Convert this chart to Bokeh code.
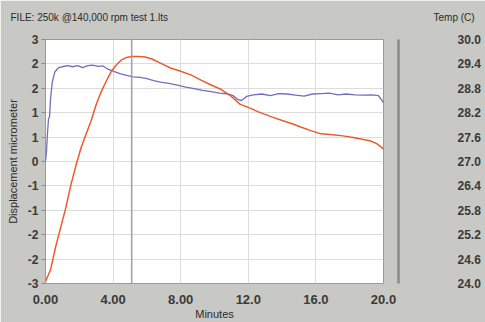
from bokeh.plotting import figure
from bokeh.models import (Range1d, LinearAxis, FixedTicker, Span, Label)
from bokeh.embed import file_html
from bokeh.resources import INLINE

# ---- data ----
disp_t = [0.00, 0.06, 0.12, 0.18, 0.24, 0.30, 0.40, 0.55, 0.75, 1.00, 1.30, 1.60, 1.90,
          2.20, 2.50, 2.80, 3.10, 3.40, 3.70, 4.00, 4.40, 4.80, 5.20, 5.60, 6.00, 6.40,
          6.80, 7.30, 7.80, 8.30, 8.80, 9.30, 9.80, 10.30, 10.80, 11.10, 11.40, 11.60,
          11.90, 12.30, 12.80, 13.30, 13.80, 14.30, 14.80, 15.30, 15.80, 16.30, 16.80,
          17.30, 17.80, 18.30, 18.80, 19.30, 19.70, 20.00]
disp_um = [0.00, 0.25, 0.72, 1.05, 1.10, 1.55, 1.95, 2.20, 2.30, 2.33, 2.36, 2.33, 2.36,
           2.31, 2.36, 2.37, 2.34, 2.35, 2.27, 2.22, 2.16, 2.12, 2.08, 2.07, 2.04, 1.99,
           1.95, 1.92, 1.88, 1.83, 1.79, 1.75, 1.72, 1.68, 1.66, 1.62, 1.52, 1.50,
           1.60, 1.64, 1.66, 1.62, 1.67, 1.66, 1.63, 1.61, 1.66, 1.67, 1.68,
           1.64, 1.66, 1.64, 1.63, 1.64, 1.62, 1.45]

temp_t = [0.00, 0.30, 0.60, 0.90, 1.20, 1.50, 1.80, 2.10, 2.40, 2.70, 3.00, 3.30, 3.60,
          3.90, 4.20, 4.50, 4.80, 5.10, 5.50, 5.90, 6.30, 6.80, 7.40, 8.00, 8.60, 9.20,
          9.80, 10.40, 11.00, 11.50, 12.00, 12.60, 13.30, 14.00, 14.60, 15.10, 15.70,
          16.30, 17.00, 17.60, 18.20, 18.80, 19.20, 19.60, 20.00]
temp_c = [24.05, 24.34, 24.90, 25.38, 25.86, 26.42, 26.90, 27.33, 27.67, 28.00, 28.40,
          28.72, 28.98, 29.22, 29.38, 29.50, 29.56, 29.58, 29.58, 29.57, 29.52, 29.42,
          29.30, 29.22, 29.13, 29.00, 28.88, 28.77, 28.60, 28.41, 28.33, 28.22, 28.11,
          28.01, 27.93, 27.85, 27.76, 27.68, 27.66, 27.63, 27.59, 27.54, 27.51, 27.44,
          27.31]

x_ticks = [0, 4, 8, 12, 16, 20]
x_tick_labels = ["0.00", "4.00", "8.00", "12.0", "16.0", "20.0"]
y_ticks = [-3.0, -2.4, -1.8, -1.2, -0.6, 0.0, 0.6, 1.2, 1.8, 2.4, 3.0]
y_tick_labels = ["-3", "-2", "-2", "-1", "-1", "0", "1", "1", "2", "2", "3"]
t_ticks = [24.0, 24.6, 25.2, 25.8, 26.4, 27.0, 27.6, 28.2, 28.8, 29.4, 30.0]
t_tick_labels = ["24.0", "24.6", "25.2", "25.8", "26.4", "27.0", "27.6", "28.2", "28.8", "29.4", "30.0"]
cursor_min = 5.1
file_title = "FILE: 250k @140,000 rpm test 1.lts"
temp_title = "Temp (C)"

BG = "#c8c8c4"
TXT = "#2b2b2b"
FONT = "Liberation Sans"

p = figure(width=485, height=322, output_backend="svg", toolbar_location=None,
           x_range=Range1d(0, 20), y_range=Range1d(-3, 3),
           min_border_left=45, min_border_right=102, min_border_top=39, min_border_bottom=35,
           background_fill_color="white", border_fill_color=BG, outline_line_color="#9a9a9a")
p.extra_y_ranges = {"temp": Range1d(24, 30)}

# grids
p.xgrid.ticker = FixedTicker(ticks=x_ticks)
p.ygrid.ticker = FixedTicker(ticks=y_ticks)
p.grid.grid_line_color = "#dcdcdc"
p.grid.grid_line_width = 1

# bottom axis
xa = p.xaxis[0]
xa.ticker = FixedTicker(ticks=x_ticks)
xa.major_label_overrides = {t: l for t, l in zip(x_ticks, x_tick_labels)}
xa.axis_label = "Minutes"
xa.axis_label_text_font = FONT
xa.axis_label_text_font_size = "11px"
xa.axis_label_text_font_style = "normal"
xa.axis_label_text_color = TXT
xa.axis_label_standoff = 1
xa.major_label_text_font = FONT
xa.major_label_text_font_size = "13px"
xa.major_label_text_font_style = "bold"
xa.major_label_text_color = "#3a3a3a"
xa.major_label_standoff = 5
xa.axis_line_color = None
xa.major_tick_line_color = None
xa.minor_tick_line_color = None

# left axis
ya = p.yaxis[0]
ya.ticker = FixedTicker(ticks=y_ticks)
ya.major_label_overrides = {t: l for t, l in zip(y_ticks, y_tick_labels)}
ya.axis_label = "Displacement micrometer"
ya.axis_label_text_font = FONT
ya.axis_label_text_font_size = "11px"
ya.axis_label_text_font_style = "normal"
ya.axis_label_text_color = TXT
ya.axis_label_standoff = 6
ya.major_label_text_font = FONT
ya.major_label_text_font_size = "12px"
ya.major_label_text_font_style = "bold"
ya.major_label_text_color = "#3a3a3a"
ya.major_label_standoff = 3
ya.axis_line_color = None
ya.major_tick_line_color = "#888888"
ya.major_tick_out = 4
ya.major_tick_in = 0
ya.minor_tick_line_color = None

# spacer axis: leaves the gray gap between the plot and the rail line
gap = LinearAxis(y_range_name="temp", ticker=FixedTicker(ticks=[27.0]))
gap.major_label_overrides = {27.0: ""}
gap.major_tick_out = 15
gap.major_tick_in = 0
gap.major_label_standoff = 0
gap.axis_line_color = None
gap.major_tick_line_color = None
gap.minor_tick_line_color = None
p.add_layout(gap, "right")

# right temperature axis; its axis line is the dark rail
ra = LinearAxis(y_range_name="temp", ticker=FixedTicker(ticks=t_ticks))
ra.major_label_overrides = {t: l for t, l in zip(t_ticks, t_tick_labels)}
ra.major_label_text_font = FONT
ra.major_label_text_font_size = "12px"
ra.major_label_text_font_style = "bold"
ra.major_label_text_color = "#3a3a3a"
ra.major_label_standoff = 59
ra.axis_line_color = "#8a8a88"
ra.axis_line_width = 2.5
ra.major_tick_line_color = None
ra.major_tick_out = 0
ra.major_tick_in = 0
ra.minor_tick_line_color = None
p.add_layout(ra, "right")

# cursor line
p.add_layout(Span(location=cursor_min, dimension="height", line_color="#a0a0a0", line_width=1.5))

# series
p.line(disp_t, disp_um, line_color="#6e70bb", line_width=1.3)
p.line(temp_t, temp_c, y_range_name="temp", line_color="#ec5a2e", line_width=1.5)

# header texts
p.add_layout(Label(x=10, y=17, x_units="canvas", y_units="canvas", text=file_title,
                   text_font=FONT, text_font_size="10px", text_color=TXT,
                   text_baseline="middle", text_align="left"), "above")
p.add_layout(Label(x=433, y=17, x_units="canvas", y_units="canvas", text=temp_title,
                   text_font=FONT, text_font_size="10px", text_color=TXT,
                   text_baseline="middle", text_align="left"), "above")

open("out.html", "w").write(file_html(p, INLINE))
